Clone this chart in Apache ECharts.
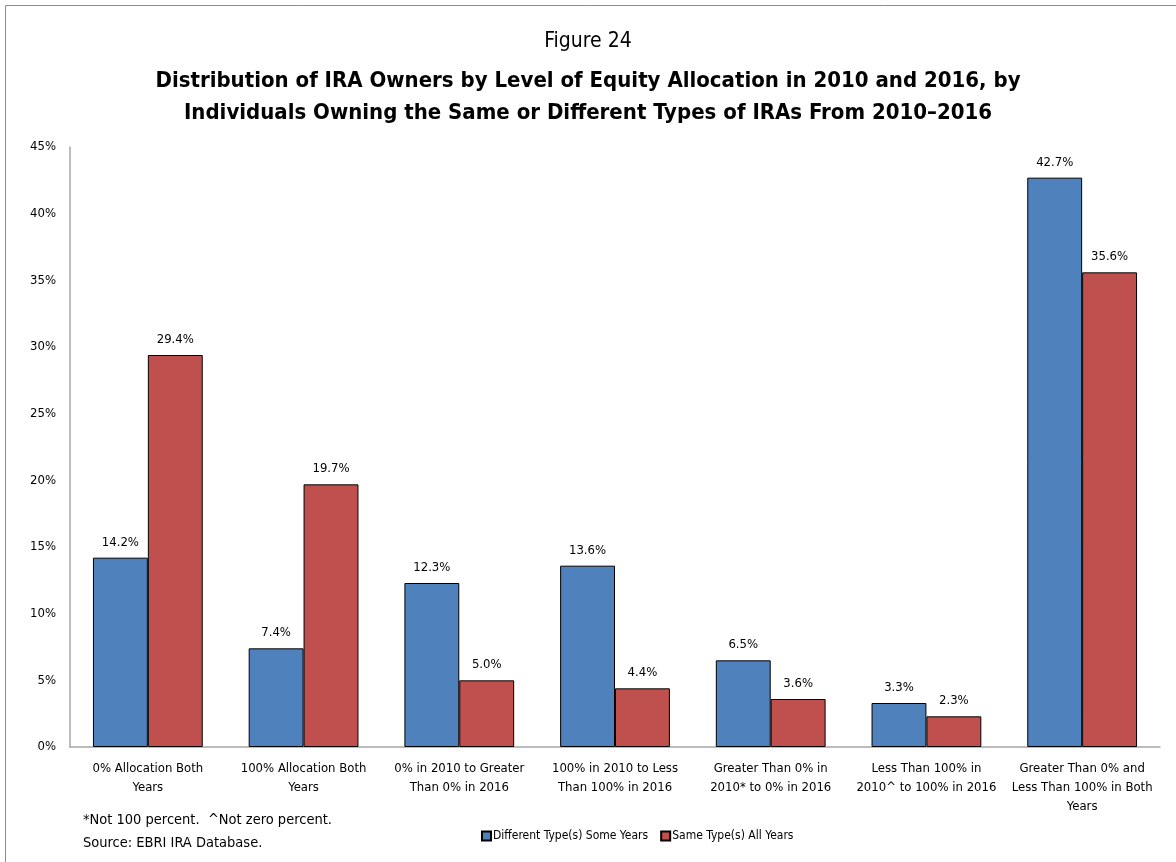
<!DOCTYPE html>
<html>
<head>
<meta charset="utf-8">
<script src="https://cdn.jsdelivr.net/npm/echarts@6/dist/echarts.min.js"></script>
<style>
  html, body { margin: 0; padding: 0; background: #fff; }
  #chart { width: 1176px; height: 862px; }
</style>
</head>
<body>
<div id="chart"></div>
<script>
// Allocation transition categories (x axis)
const categories = [
  '0% Allocation Both\nYears',
  '100% Allocation Both\nYears',
  '0% in 2010 to Greater\nThan 0% in 2016',
  '100% in 2010 to Less\nThan 100% in 2016',
  'Greater Than 0% in\n2010* to 0% in 2016',
  'Less Than 100% in\n2010^ to 100% in 2016',
  'Greater Than 0% and\nLess Than 100% in Both\nYears'
];
// Percent of IRA owners in each group
const differentTypes = [14.2, 7.4, 12.3, 13.6, 6.5, 3.3, 42.7];
const sameTypes = [29.4, 19.7, 5.0, 4.4, 3.6, 2.3, 35.6];
const seriesNames = ['Different Type(s) Some Years', 'Same Type(s) All Years'];
const yTicks = { min: 0, max: 45, interval: 5 };

const FONT = '"Liberation Sans Narrow", "DejaVu Sans Condensed", "Liberation Sans", sans-serif';

const chart = echarts.init(document.getElementById('chart'), null, { renderer: 'canvas' });

const barLabel = {
  show: true,
  position: 'top',
  distance: 9,
  color: '#000',
  fontFamily: FONT,
  fontSize: 13,
  formatter: p => p.value.toFixed(1) + '%'
};

chart.setOption({
  backgroundColor: '#fff',
  animation: false,
  textStyle: { fontFamily: FONT },
  title: [
    {
      text: 'Figure 24',
      left: 'center', top: 26,
      textStyle: { fontFamily: FONT, fontSize: 21, fontWeight: 'normal', color: '#000' }
    },
    {
      text: 'Distribution of IRA Owners by Level of Equity Allocation in 2010 and 2016, by\nIndividuals Owning the Same or Different Types of IRAs From 2010\u20132016',
      left: 'center', top: 60,
      textStyle: { fontFamily: FONT, fontSize: 22, fontWeight: 'bold', color: '#000', lineHeight: 32, align: 'center' }
    }
  ],
  graphic: [
    {
      type: 'rect',
      shape: { x: 5.5, y: 5.5, width: 1200, height: 900 },
      style: { fill: 'none', stroke: '#8c8c8c', lineWidth: 1 },
      silent: true, z: -1
    },
    {
      type: 'text', left: 83, top: 813,
      style: { text: '*Not 100 percent.  ^Not zero percent.', fontFamily: FONT, fontSize: 14.5, fill: '#000' }
    },
    {
      type: 'text', left: 83, top: 836,
      style: { text: 'Source: EBRI IRA Database.', fontFamily: FONT, fontSize: 14.5, fill: '#000' }
    }
  ],
  legend: {
    data: seriesNames,
    left: 476, top: 825,
    itemWidth: 9, itemHeight: 9, itemGap: 12,
    icon: 'rect',
    textStyle: { fontFamily: FONT, fontSize: 12, color: '#000', padding: [0, 0, 0, -3] }
  },
  grid: { left: 70, right: 16, top: 147, bottom: 115, containLabel: false },
  xAxis: {
    type: 'category',
    data: categories,
    axisLine: { lineStyle: { color: '#a6a6a6', width: 1.5 } },
    axisTick: { show: false },
    axisLabel: { color: '#000', fontFamily: FONT, fontSize: 13, lineHeight: 19, margin: 12, interval: 0 }
  },
  yAxis: {
    type: 'value',
    min: yTicks.min, max: yTicks.max, interval: yTicks.interval,
    splitLine: { show: false },
    axisLine: { show: true, lineStyle: { color: '#a6a6a6', width: 1.5 } },
    axisTick: { show: false },
    axisLabel: { color: '#000', fontFamily: FONT, fontSize: 13, margin: 14, formatter: v => v + '%' }
  },
  series: [
    {
      name: seriesNames[0], type: 'bar', data: differentTypes,
      barGap: '0%', barCategoryGap: '29.5%',
      itemStyle: { color: '#4F81BD', borderColor: '#000', borderWidth: 1 },
      label: barLabel
    },
    {
      name: seriesNames[1], type: 'bar', data: sameTypes,
      barGap: '0%', barCategoryGap: '29.5%',
      itemStyle: { color: '#C0504D', borderColor: '#000', borderWidth: 1 },
      label: barLabel
    }
  ]
});
</script>
</body>
</html>
